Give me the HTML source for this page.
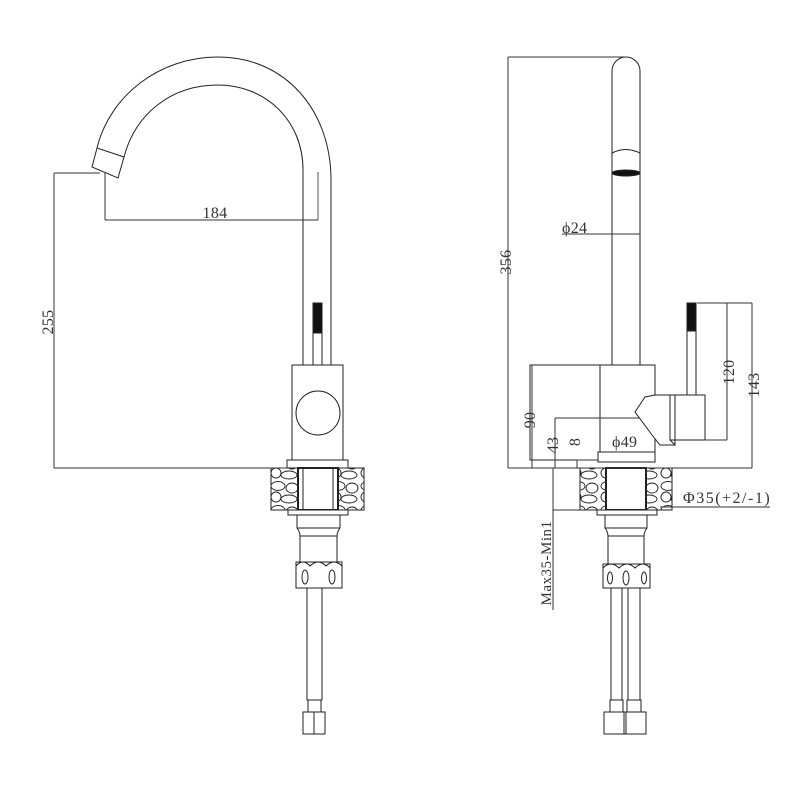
<!DOCTYPE html>
<html><head><meta charset="utf-8"><style>
html,body{margin:0;padding:0;background:#fff;}
svg{display:block}
text{font-family:"Liberation Serif",serif;font-size:16px;fill:#333;letter-spacing:0.3px}
</style></head><body>
<svg width="800" height="800" viewBox="0 0 800 800" xmlns="http://www.w3.org/2000/svg">
<defs>
<pattern id="peb" width="30" height="24" patternUnits="userSpaceOnUse">
<rect width="30" height="24" fill="#fff"/>
<ellipse cx="8" cy="6" rx="7" ry="4.5" fill="none" stroke="#222" stroke-width="0.9"/>
<ellipse cx="22" cy="8" rx="6" ry="5" fill="none" stroke="#222" stroke-width="0.9"/>
<ellipse cx="6" cy="17" rx="5" ry="5" fill="none" stroke="#222" stroke-width="0.9"/>
<ellipse cx="19" cy="19" rx="8" ry="4" fill="none" stroke="#222" stroke-width="0.9"/>
</pattern>
</defs>
<g fill="none" stroke="#222" stroke-width="1">
<!-- LEFT FAUCET -->
<path d="M97,148 C110,95 160,57 218,57 C285,57 331,110 331,180 L331,365"/>
<path d="M124,157 C135,115 170,85 218,85 C265,85 303,120 303,170 L303,365"/>
<path d="M97,148 L92,167 L118,178 L124,157 Z"/>
<line x1="318" y1="172" x2="318" y2="220" stroke="#555"/>
<rect x="313" y="303" width="9" height="100"/>
<rect x="313" y="303" width="9" height="30" fill="#111"/>
<rect x="292" y="365" width="51" height="95" fill="#fff"/>
<circle cx="318" cy="413" r="22" fill="#fff"/>
<rect x="287" y="460" width="61" height="8" fill="#fff"/>
<rect x="271" y="468" width="93" height="42" fill="url(#peb)"/>
<rect x="298" y="468" width="40" height="42" fill="#fff" stroke-width="2"/>
<line x1="303" y1="468" x2="303" y2="510"/><line x1="333" y1="468" x2="333" y2="510"/>
<rect x="288" y="510" width="60" height="5" fill="#fff"/>
<path d="M297,515 L297,528 Q300,532 300,536 L300,588 M340,515 L340,528 Q337,532 337,536 L337,588"/>
<line x1="297" y1="528" x2="340" y2="528"/><line x1="300" y1="536" x2="337" y2="536"/>
<rect x="296" y="562" width="46" height="26" fill="#fff"/>
<path d="M296,566 Q303,558 310,566 Q318,558 326,566 Q334,558 342,566"/>
<ellipse cx="305" cy="577" rx="3" ry="7"/><ellipse cx="332" cy="577" rx="3" ry="7"/>
<rect x="307" y="588" width="15" height="112"/>
<rect x="308" y="700" width="13" height="12"/>
<rect x="303" y="712" width="22" height="22"/>
<line x1="314" y1="712" x2="314" y2="734"/>
</g>
<g fill="none" stroke="#333" stroke-width="1">
<line x1="54" y1="173" x2="100" y2="173"/>
<line x1="54" y1="173" x2="54" y2="468"/>
<line x1="54" y1="468" x2="287" y2="468"/>
<line x1="105" y1="173" x2="105" y2="220"/>
<line x1="105" y1="220" x2="318" y2="220"/>
</g>
<text x="215" y="218" text-anchor="middle">184</text>
<text transform="translate(53,322) rotate(-90)" text-anchor="middle">255</text>

<!-- RIGHT FAUCET -->
<g fill="none" stroke="#222" stroke-width="1">
<path d="M612,365 L612,71 A14,14 0 0 1 640,71 L640,365"/>
<path d="M612,153 Q626,146 640,153"/>
<ellipse cx="626" cy="173" rx="14" ry="3" fill="#111"/>
<rect x="530" y="365" width="125" height="95" fill="#fff"/>
<line x1="600" y1="365" x2="600" y2="460"/>
<path d="M655,395 L670,395 L670,440 L675,445 L660,445 L652,435 L635,412 L645,397 Z" fill="#fff"/>
<rect x="687" y="303" width="9" height="95"/>
<rect x="687" y="303" width="9" height="28" fill="#111"/>
<rect x="670" y="395" width="35" height="45" fill="#fff"/>
<line x1="675" y1="395" x2="675" y2="445"/>
<rect x="598" y="452" width="57" height="10" fill="#fff"/>
<rect x="580" y="468" width="92" height="42" fill="url(#peb)"/>
<rect x="606" y="468" width="40" height="42" fill="#fff" stroke-width="2"/>
<rect x="597" y="510" width="60" height="5" fill="#fff"/>
<path d="M605,515 L605,528 Q608,532 608,536 L608,588 M647,515 L647,528 Q644,532 644,536 L644,588"/>
<line x1="605" y1="528" x2="647" y2="528"/><line x1="608" y1="536" x2="644" y2="536"/>
<rect x="603" y="564" width="47" height="24" fill="#fff"/>
<path d="M603,568 Q611,560 619,568 Q627,560 635,568 Q643,560 650,568"/>
<ellipse cx="610" cy="578" rx="2.5" ry="6"/><ellipse cx="626" cy="578" rx="3" ry="7"/><ellipse cx="644" cy="578" rx="2.5" ry="6"/>
<rect x="611" y="588" width="11" height="112"/>
<rect x="628" y="588" width="12" height="112"/>
<rect x="610" y="700" width="13" height="12"/><rect x="627" y="700" width="14" height="12"/>
<rect x="604" y="712" width="22" height="22"/><rect x="624" y="712" width="22" height="22"/>
</g>
<g fill="none" stroke="#333" stroke-width="1">
<line x1="508" y1="57" x2="626" y2="57"/>
<line x1="508" y1="57" x2="508" y2="468"/>
<line x1="508" y1="468" x2="752" y2="468"/>
<line x1="562" y1="234" x2="640" y2="234"/>
<line x1="697" y1="303" x2="752" y2="303"/>
<line x1="752" y1="303" x2="752" y2="468"/>
<line x1="727" y1="303" x2="727" y2="440"/>
<line x1="705" y1="440" x2="727" y2="440"/>
<line x1="532" y1="365" x2="532" y2="468"/>
<line x1="555" y1="418" x2="640" y2="418"/>
<line x1="555" y1="418" x2="555" y2="468"/>
<line x1="577" y1="460" x2="598" y2="460"/>
<line x1="577" y1="460" x2="577" y2="468"/>
<line x1="553" y1="468" x2="553" y2="610"/>
<line x1="553" y1="510" x2="580" y2="510"/>
<line x1="660" y1="507" x2="770" y2="507"/>
</g>
<text x="562" y="233">ϕ24</text>
<text transform="translate(511,262) rotate(-90)" text-anchor="middle">356</text>
<text transform="translate(734,372) rotate(-90)" text-anchor="middle">120</text>
<text transform="translate(759,385) rotate(-90)" text-anchor="middle">143</text>
<text transform="translate(535,420) rotate(-90)" text-anchor="middle">90</text>
<text transform="translate(558,445) rotate(-90)" text-anchor="middle">43</text>
<text transform="translate(580,442) rotate(-90)" text-anchor="middle">8</text>
<text x="612" y="447">ϕ49</text>
<text x="683" y="503" style="font-size:16px;letter-spacing:1.5px">Φ35(+2/-1)</text>
<text transform="translate(551,563) rotate(-90)" text-anchor="middle" style="font-size:15px;letter-spacing:0.5px">Max35-Min1</text>
</svg>
</body></html>
